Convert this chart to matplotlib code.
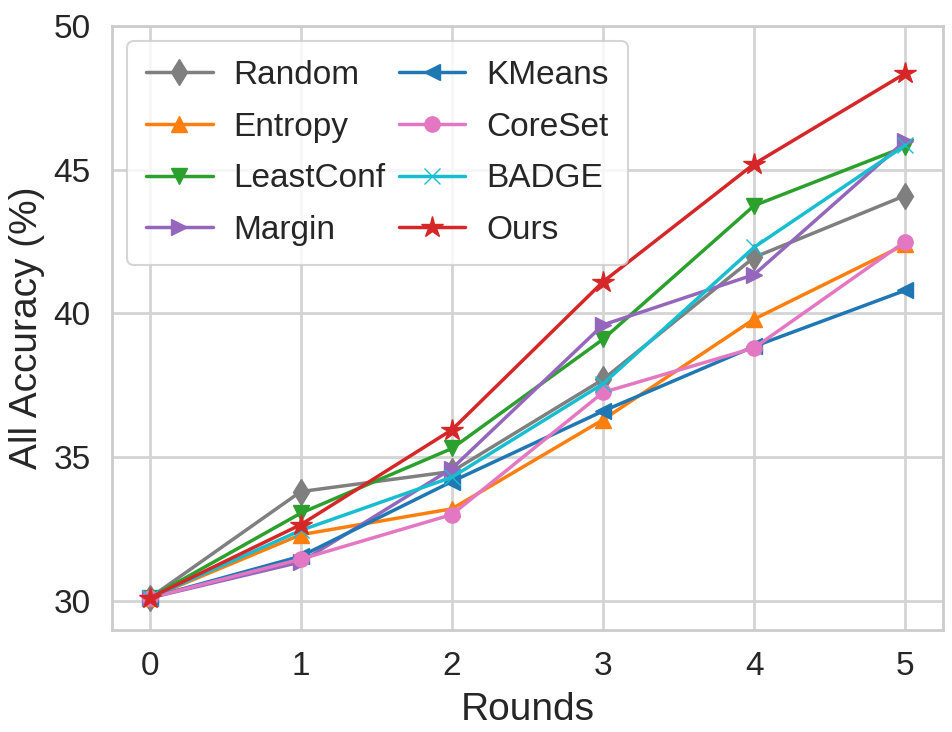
import matplotlib
matplotlib.use("Agg")
import matplotlib.pyplot as plt
import seaborn as sns

sns.set_style("whitegrid")
plt.rcParams['font.family'] = ['Liberation Sans', 'DejaVu Sans']

rounds = [0, 1, 2, 3, 4, 5]

random_acc = [30.1, 33.8, 34.5, 37.7, 41.95, 44.1]
entropy_acc = [30.1, 32.3, 33.2, 36.3, 39.8, 42.4]
leastconf_acc = [30.1, 33.05, 35.3, 39.1, 43.75, 45.8]
margin_acc = [30.1, 31.35, 34.6, 39.6, 41.35, 46.0]
kmeans_acc = [30.1, 31.55, 34.15, 36.6, 38.85, 40.8]
coreset_acc = [30.1, 31.45, 33.0, 37.25, 38.8, 42.5]
badge_acc = [30.1, 32.45, 34.3, 37.55, 42.3, 45.85]
ours_acc = [30.1, 32.65, 35.95, 41.1, 45.2, 48.35]

methods = ["Random", "Entropy", "LeastConf", "Margin", "KMeans", "CoreSet", "BADGE", "Ours"]
markers = ["d", "^", "v", ">", "<", "o", "x", "*"]
colors = ["tab:gray", "tab:orange", "tab:green", "tab:purple",
          "tab:blue", "tab:pink", "tab:cyan", "tab:red"]
series = [random_acc, entropy_acc, leastconf_acc, margin_acc,
          kmeans_acc, coreset_acc, badge_acc, ours_acc]
msizes = {"d": 13.5, "*": 16}

fig = plt.figure(figsize=(9.53, 7.32), dpi=100)
ax = fig.add_axes([0.1175, 0.14, 0.872, 0.8245])

for name, mk, c, vals in zip(methods, markers, colors, series):
    ax.plot(rounds, vals, marker=mk, color=c, label=name, linewidth=2.5,
            markersize=msizes.get(mk, 11))

ax.set_xlim(-0.25, 5.25)
ax.set_ylim(29, 50)
ax.set_xticks(rounds)
ax.set_yticks([30, 35, 40, 45, 50])
ax.tick_params(labelsize=24, pad=12)
ax.set_xlabel("Rounds", fontsize=28, labelpad=7)
ax.set_ylabel("All Accuracy (%)", fontsize=28, labelpad=6)
ax.grid(color="#d4d4d4", linewidth=2)
for sp in ax.spines.values():
    sp.set_color("#cccccc")
    sp.set_linewidth(2)

leg = ax.legend(loc="upper left", ncol=2, fontsize=24, handlelength=2.0,
                handletextpad=0.62, columnspacing=0.4, labelspacing=0.62,
                borderpad=0.57, borderaxespad=0.45)
leg.get_frame().set_linewidth(1.5)

fig.savefig("out.png", dpi=100)
